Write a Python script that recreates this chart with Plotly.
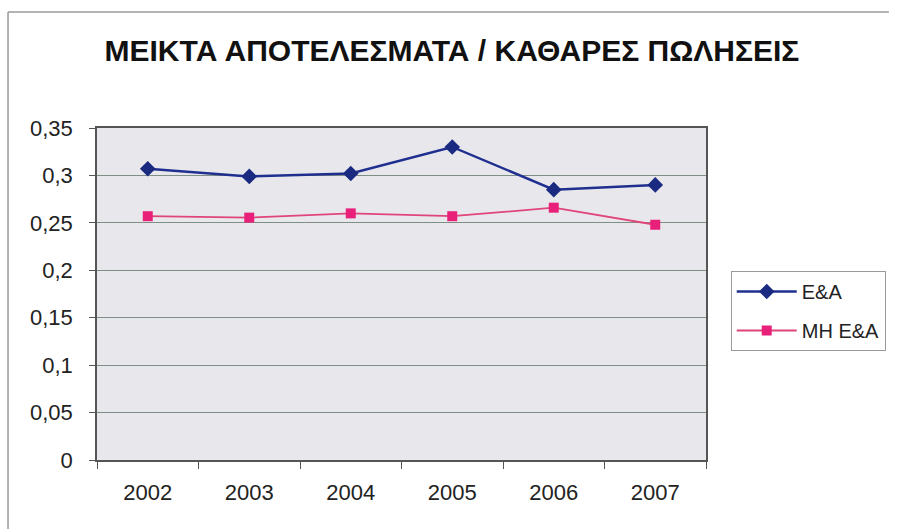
import plotly.graph_objects as go

# Chart data
years = ["2002", "2003", "2004", "2005", "2006", "2007"]
ea_values = [0.307, 0.299, 0.302, 0.330, 0.285, 0.290]
non_ea_values = [0.257, 0.2555, 0.260, 0.257, 0.266, 0.248]
y_tick_vals = [0, 0.05, 0.1, 0.15, 0.2, 0.25, 0.3, 0.35]
y_tick_text = ["0", "0,05", "0,1", "0,15", "0,2", "0,25", "0,3", "0,35"]

title_text = "ΜΕΙΚΤΑ ΑΠΟΤΕΛΕΣΜΑΤΑ / ΚΑΘΑΡΕΣ ΠΩΛΗΣΕΙΣ"

W, H = 898, 529
L, R, T, B = 97, 713, 128, 460

fig = go.Figure()
fig.add_trace(go.Scatter(
    x=years, y=ea_values, name="E&A", mode="lines+markers",
    legendgroup="a",
    line=dict(color="#1f2f8f", width=2.5),
    marker=dict(symbol="diamond", size=12, color="#1a2a80"),
))
fig.add_trace(go.Scatter(
    x=years, y=non_ea_values, name="MH E&A", mode="lines+markers",
    legendgroup="b",
    line=dict(color="#e0457a", width=1.8),
    marker=dict(symbol="square", size=10, color="#e8207a"),
))

def px_x(p):
    return (p - L) / (R - L)

def px_y(p):
    return (B - p) / (B - T)

# Chart frame: only the left and top edges fall inside the page
frame = dict(color="#9a9a9a", width=1.5)
fig.add_shape(type="line", xref="paper", yref="paper",
              x0=px_x(7), x1=px_x(7), y0=px_y(529), y1=px_y(12),
              line=frame, layer="below")
fig.add_shape(type="line", xref="paper", yref="paper",
              x0=px_x(7), x1=px_x(898), y0=px_y(12), y1=px_y(12),
              line=frame, layer="below")

fig.update_layout(
    width=W, height=H,
    margin=dict(l=L, r=W - R, t=T, b=H - B),
    paper_bgcolor="white",
    plot_bgcolor="#e8e8ec",
    title=dict(text="<b>" + title_text + "</b>", x=px_x(456), xref="paper",
               xanchor="center", y=1 - 50 / H, yanchor="middle",
               font=dict(family="Liberation Sans, Arial", size=30, color="#111111")),
    font=dict(family="Liberation Sans, Arial", color="#222222"),
    showlegend=True,
    legend=dict(x=px_x(738), y=px_y(271), xanchor="left", yanchor="top",
                bgcolor="white", bordercolor="#9a9a9a", borderwidth=1,
                font=dict(size=20, family="Liberation Sans, Arial", color="#222222"),
                itemwidth=60, traceorder="grouped", tracegroupgap=10),
)

fig.update_xaxes(
    type="category", range=[-0.5, len(years) - 0.5],
    showgrid=False, tickson="boundaries",
    ticks="outside", ticklen=7, tickcolor="#555555",
    showline=True, linecolor="#555555", linewidth=1.5, mirror=True,
    tickfont=dict(size=22), ticklabelstandoff=12,
)
fig.update_yaxes(
    range=[0, 0.35], tickvals=y_tick_vals, ticktext=y_tick_text,
    showgrid=True, gridcolor="#7f8f86", gridwidth=1,
    ticks="outside", ticklen=6, tickcolor="#555555",
    showline=True, linecolor="#555555", linewidth=1.5, mirror=True,
    tickfont=dict(size=22), ticklabelstandoff=12, zeroline=False,
)

fig.write_html("out.html")
